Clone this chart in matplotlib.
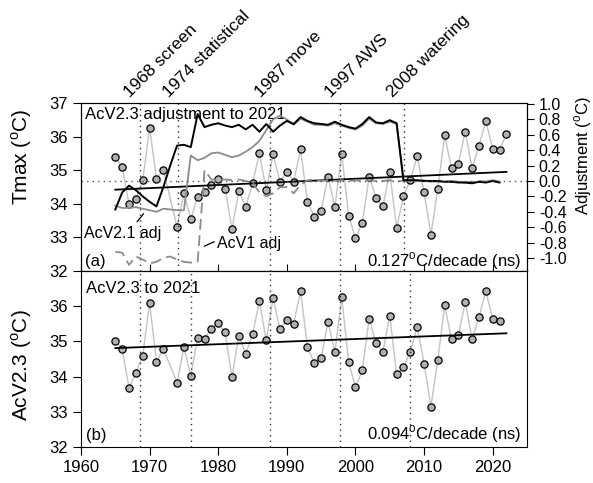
import matplotlib
matplotlib.use("Agg")
import matplotlib.pyplot as plt
import numpy as np

plt.rcParams['font.family'] = ['Liberation Sans', 'DejaVu Sans']
plt.rcParams['mathtext.fontset'] = 'custom'
plt.rcParams['mathtext.rm'] = 'Liberation Sans'
plt.rcParams['axes.unicode_minus'] = False

# raw Tmax (panel a), 1973 missing
years_a = [1965, 1966, 1967, 1968, 1969, 1970, 1971, 1972, 1974, 1975, 1976, 1977,
           1978, 1979, 1980, 1981, 1982, 1983, 1984, 1985, 1986, 1987, 1988, 1989,
           1990, 1991, 1992, 1993, 1994, 1995, 1996, 1997, 1998, 1999, 2000, 2001,
           2002, 2003, 2004, 2005, 2006, 2007, 2008, 2009, 2010, 2011, 2012, 2013,
           2014, 2015, 2016, 2017, 2018, 2019, 2020, 2021, 2022]
tmax_a = [35.40, 35.09, 33.99, 34.14, 34.70, 36.26, 34.75, 35.01, 33.31, 34.31, 33.55, 34.21,
          34.35, 34.57, 34.73, 34.45, 33.25, 34.38, 33.90, 34.61, 35.50, 34.40, 35.48, 34.66,
          34.95, 34.66, 35.62, 34.06, 33.62, 33.79, 34.81, 33.90, 35.49, 33.65, 32.97, 33.44,
          34.81, 34.17, 33.93, 34.94, 33.28, 34.23, 34.70, 35.42, 34.34, 33.08, 34.45, 36.04,
          35.06, 35.19, 36.15, 35.06, 35.73, 36.46, 35.63, 35.60, 36.07]

# homogenised AcV2.3 (panel b)
years_b = years_a[:-1]
tmax_b = [35.02, 34.78, 33.68, 34.11, 34.59, 36.10, 34.41, 34.79, 33.83, 34.83, 34.02, 35.11,
          35.07, 35.36, 35.52, 35.26, 33.98, 35.16, 34.65, 35.20, 36.14, 35.03, 36.23, 35.35,
          35.60, 35.50, 36.43, 34.84, 34.38, 34.53, 35.56, 34.69, 36.26, 34.41, 33.70, 34.18,
          35.65, 34.95, 34.71, 35.73, 34.06, 34.27, 34.71, 35.42, 34.37, 33.15, 34.47, 36.02,
          35.06, 35.17, 36.12, 35.06, 35.69, 36.43, 35.64, 35.59]

# adjustments 1965-2021
adj_years = list(range(1965, 2022))
adj_v23 = [-0.37, -0.15, -0.06, -0.12, -0.20, -0.27, -0.33, -0.08, 0.20, 0.46, 0.47, 0.44,
           0.87, 0.70, 0.73, 0.75, 0.72, 0.70, 0.73, 0.67, 0.73, 0.64, 0.74, 0.64, 0.72,
           0.78, 0.74, 0.83, 0.78, 0.75, 0.74, 0.73, 0.77, 0.73, 0.70, 0.68, 0.74, 0.83,
           0.76, 0.75, 0.79, 0.75, 0.01, 0.01, 0.01, 0.00, 0.00, 0.00, -0.01, -0.01, -0.02,
           -0.02, -0.03, -0.01, -0.02, 0.00, -0.02]
adj_v21 = [-0.32, -0.35, -0.35, -0.34, -0.36, -0.38, -0.40, -0.36, -0.37, -0.38, -0.38, 0.33,
           0.27, 0.30, 0.36, 0.37, 0.34, 0.31, 0.33, 0.38, 0.44, 0.52, 0.66, 0.80, 0.85,
           0.80, 0.73, 0.81, 0.77, 0.73, 0.73, 0.72, 0.75, 0.72, 0.69, 0.67, 0.72, 0.81,
           0.75, 0.74, 0.77, 0.74, 0.00, 0.01, 0.00, 0.01, -0.01, 0.00, -0.01, 0.00, -0.01,
           -0.02, -0.02, -0.01, -0.01, 0.01, -0.01]
adj_v1 = [-0.92, -0.93, -1.09, -0.98, -1.02, -1.07, -1.05, -1.00, -0.98, -1.02, -1.05, -1.06,
          -1.05, 0.14, 0.02, 0.01, 0.02, 0.01, 0.02, 0.00, -0.02, -0.15, -0.20, -0.16, -0.08,
          -0.08, -0.16, -0.05, 0.01, 0.02, 0.00, 0.01, 0.00, 0.01, 0.00, 0.01, 0.00, 0.01,
          0.00, 0.00, 0.01, 0.00, 0.00, 0.01, 0.00, 0.00, 0.00, -0.01, 0.00, -0.01, -0.01,
          -0.02, -0.01, 0.00, -0.01, 0.00, -0.01]
adj_ticks = [-1.0, -0.8, -0.6, -0.4, -0.2, 0.0, 0.2, 0.4, 0.6, 0.8, 1.0]

trend_years = [1965, 2022]
trend_a = [34.42, 34.95]
trend_b = [34.81, 35.23]

events_a = [1968.6, 1974.1, 1987.6, 1997.7, 2007.05]
events_b = [1968.6, 1976.0, 1987.5, 1997.7, 2008.0]
event_labels = ['1968 screen', '1974 statistical', '1987 move', '1997 AWS', '2008 watering']
label_x = [1967.4, 1973.2, 1986.6, 1996.8, 2005.8]

W, H = 593, 483
fig = plt.figure(figsize=(W / 100, H / 100), dpi=100)
ax_a = fig.add_axes([81 / W, 1 - 271 / H, 446 / W, 168 / H])
ax_b = fig.add_axes([81 / W, 1 - 447 / H, 446 / W, 176 / H])
ax_r = ax_a.twinx()

pt_kw = dict(color='#c4c4c4', lw=1, marker='o', ms=5.2, mfc='#b0b0b0', mec='black', mew=0.9)
dot = (0, (1, 3))

# panel a
ax_a.plot(years_a, tmax_a, **pt_kw)
ax_a.plot(trend_years, trend_a, color='black', lw=1.3)
for x in events_a:
    ax_a.axvline(x, color='#333333', lw=1, ls=dot)
ax_a.set_xlim(1960, 2025)
ax_a.set_ylim(32, 37)
ax_a.set_yticks([32, 33, 34, 35, 36, 37])
ax_a.set_xticks(range(1960, 2030, 10))
ax_a.tick_params(axis='x', direction='in', length=5, labelbottom=False)
ax_a.tick_params(axis='y', direction='out', length=6, labelsize=12)

ax_r.plot(adj_years, adj_v1, color='#8c8c8c', lw=1.3, ls=(0, (6, 3)))
ax_r.plot(adj_years, adj_v21, color='#8c8c8c', lw=1.3)
ax_r.plot(adj_years, adj_v23, color='black', lw=1.4)
ax_r.axhline(0, color='#555555', lw=1, ls=dot)
ax_r.set_ylim(-1.169, 1.013)
ax_r.set_yticks(adj_ticks)
ax_r.set_yticklabels(['%.1f' % v for v in adj_ticks])
ax_r.tick_params(axis='y', direction='out', length=5, labelsize=11.5)

ax_a.text(0.009, 0.934, 'AcV2.3 adjustment to 2021', transform=ax_a.transAxes,
          ha='left', va='center', fontsize=12)
ax_a.text(0.009, 0.054, '(a)', transform=ax_a.transAxes, ha='left', va='center', fontsize=12)
ax_a.text(0.987, 0.06, '0.127$^{\\mathregular{o}}$C/decade (ns)', transform=ax_a.transAxes,
          ha='right', va='center', fontsize=12)
ax_a.text(1960.5, 33.13, 'AcV2.1 adj', ha='left', va='center', fontsize=11.5)
ax_a.plot([1968.2, 1969.1], [33.47, 33.70], color='black', lw=0.9)
ax_a.text(1979.8, 32.82, 'AcV1 adj', ha='left', va='center', fontsize=11.5)
ax_a.plot([1978.0, 1979.4], [32.74, 32.87], color='black', lw=0.9)

for x, lab in zip(label_x, event_labels):
    ax_a.text(x, 37.1, lab, rotation=45, rotation_mode='anchor', ha='left', va='bottom',
              fontsize=12.5, clip_on=False)

# panel b
ax_b.plot(years_b, tmax_b, **pt_kw)
ax_b.plot(trend_years, trend_b, color='black', lw=1.3)
for x in events_b:
    ax_b.axvline(x, color='#333333', lw=1, ls=dot)
ax_b.set_xlim(1960, 2025)
ax_b.set_ylim(32, 37)
ax_b.set_yticks([32, 33, 34, 35, 36])
ax_b.set_xticks(range(1960, 2030, 10))
ax_b.tick_params(axis='both', direction='out', length=6, labelsize=12)
ax_b.text(0.012, 0.898, 'AcV2.3 to 2021', transform=ax_b.transAxes,
          ha='left', va='center', fontsize=12)
ax_b.text(0.012, 0.068, '(b)', transform=ax_b.transAxes, ha='left', va='center', fontsize=12)
ax_b.text(0.987, 0.074, '0.094$^{\\mathregular{o}}$C/decade (ns)', transform=ax_b.transAxes,
          ha='right', va='center', fontsize=12)

fig.text(22 / W, 1 - 157 / H, 'Tmax ($^{\\mathregular{o}}$C)', rotation=90,
         ha='center', va='center', fontsize=15)
fig.text(22 / W, 1 - 365 / H, 'AcV2.3 ($^{\\mathregular{o}}$C)', rotation=90,
         ha='center', va='center', fontsize=15)
fig.text(583 / W, 1 - 155 / H, 'Adjustment ($^{\\mathregular{o}}$C)', rotation=90,
         ha='center', va='center', fontsize=12)

fig.savefig('out.png', dpi=100)
